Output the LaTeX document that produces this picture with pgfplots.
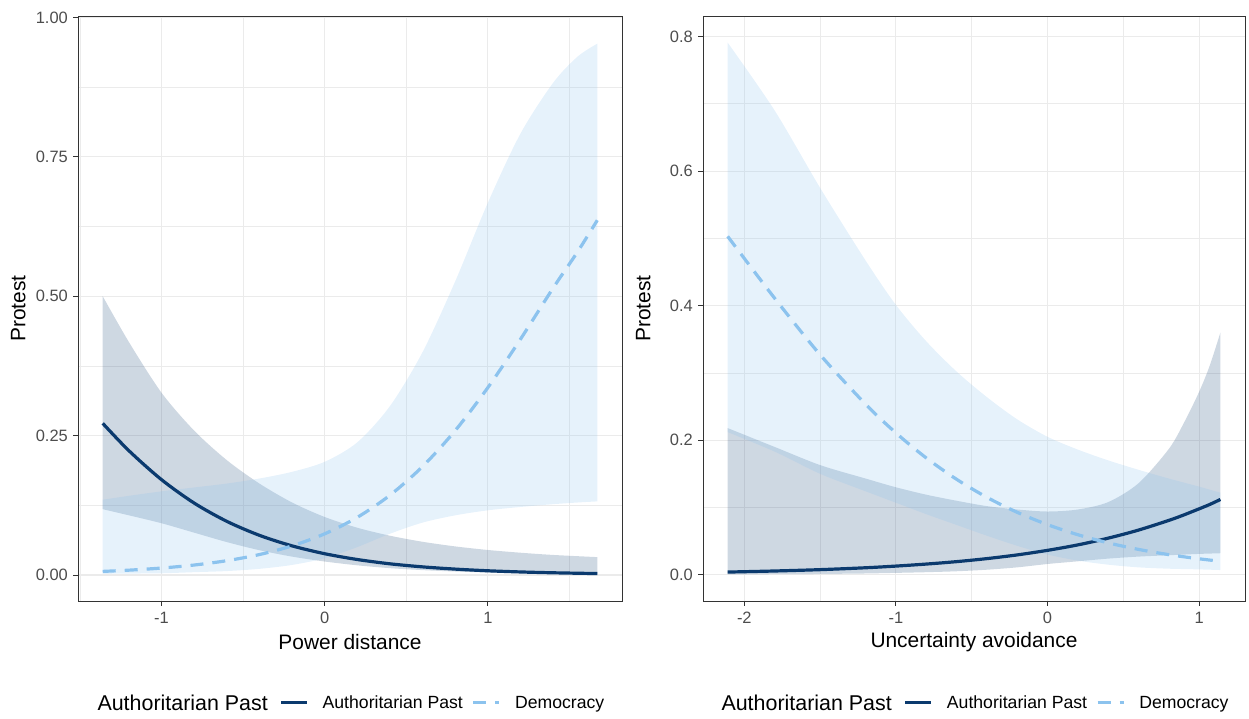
\documentclass[border=0pt]{standalone}
\usepackage{fontspec}
\setmainfont{Liberation Sans}
\usepackage{pgfplots}
\pgfplotsset{compat=1.18}
\usepackage{pgfplotstable}
\usepgfplotslibrary{fillbetween}
\definecolor{navy}{HTML}{0B3A6E}
\definecolor{lblue}{HTML}{8CC3EE}
\definecolor{gridc}{HTML}{EBEBEB}
\definecolor{gray20}{HTML}{333333}
\definecolor{gray30}{HTML}{4D4D4D}

% x  mean  lo  hi
\pgfplotstableread{
x y lo hi
-1.36 0.272 0.118 0.500
-1.2 0.223 0.107 0.418
-1.0 0.171 0.0928 0.327
-0.8 0.129 0.0759 0.259
-0.6 0.0962 0.0590 0.206
-0.4 0.0711 0.0444 0.164
-0.2 0.0522 0.0329 0.130
0 0.0381 0.0241 0.104
0.2 0.0277 0.0173 0.0847
0.4 0.0200 0.0122 0.0704
0.6 0.0145 0.0087 0.0595
0.8 0.0105 0.0062 0.0512
1.0 0.0075 0.0045 0.0448
1.2 0.0054 0.0033 0.0399
1.4 0.0039 0.0025 0.0359
1.67 0.0025 0.0018 0.0320
}\LA

\pgfplotstableread{
x y lo hi
-1.36 0.0064 0.002 0.135
-1.2 0.0086 0.0025 0.142
-1.0 0.0124 0.003 0.150
-0.8 0.0178 0.005 0.157
-0.6 0.0256 0.007 0.164
-0.4 0.0366 0.011 0.173
-0.2 0.0522 0.018 0.185
0 0.0738 0.030 0.203
0.2 0.1034 0.050 0.238
0.4 0.1431 0.074 0.303
0.6 0.1947 0.094 0.400
0.8 0.2592 0.107 0.527
1.0 0.3363 0.116 0.668
1.2 0.4232 0.122 0.792
1.4 0.5150 0.127 0.883
1.55 0.5800 0.130 0.930
1.67 0.6363 0.132 0.953
}\LD

\pgfplotstableread{
x y lo hi
-2.11 0.0040 0.0005 0.218
-1.8 0.0056 0.0008 0.190
-1.5 0.0076 0.0012 0.163
-1.2 0.0104 0.0019 0.143
-1.0 0.0129 0.0028 0.130
-0.8 0.0159 0.0038 0.119
-0.6 0.0195 0.0052 0.110
-0.4 0.0240 0.0075 0.102
-0.2 0.0295 0.011 0.097
0 0.0363 0.016 0.094
0.2 0.0444 0.020 0.097
0.4 0.0544 0.024 0.108
0.6 0.0664 0.027 0.136
0.8 0.0808 0.029 0.187
0.9 0.0890 0.030 0.226
1.0 0.0980 0.031 0.272
1.07 0.1045 0.0315 0.311
1.14 0.1119 0.032 0.360
}\RA

\pgfplotstableread{
x y lo hi
-2.11 0.503 0.212 0.791
-1.8 0.411 0.183 0.690
-1.5 0.327 0.150 0.575
-1.2 0.2535 0.124 0.467
-1.0 0.2108 0.107 0.401
-0.8 0.1736 0.090 0.347
-0.6 0.1419 0.074 0.302
-0.4 0.1151 0.058 0.264
-0.2 0.0928 0.043 0.231
0 0.0745 0.030 0.205
0.2 0.0595 0.021 0.186
0.4 0.0474 0.015 0.170
0.6 0.0377 0.011 0.156
0.8 0.0299 0.009 0.143
1.0 0.0237 0.008 0.131
1.14 0.0201 0.007 0.122
}\RD

\pgfplotsset{
  panel/.style={
    scale only axis, height=585bp, anchor=south west,
    axis line style={gray20, line width=0.9bp},
    every tick/.style={gray20, line width=0.9bp},
    tick align=outside, major tick length=5bp, minor tick length=0pt,
    xtick pos=bottom, ytick pos=left,
    grid=both,
    major grid style={gridc, line width=1.1bp},
    minor grid style={gridc, line width=0.6bp},
    ticklabel style={font=\fontsize{16.5}{19}\selectfont, text=gray30},
    xticklabel style={anchor=north, inner sep=0pt, yshift=-6bp},
    yticklabel style={anchor=east, inner sep=0pt, xshift=-5bp},
    label style={font=\fontsize{21}{24}\selectfont},
    xlabel style={at={(axis description cs:0.5,-0.070)}, anchor=center},
    ylabel style={at={(axis description cs:-0.110,0.5)}, anchor=center},
    legend columns=-1,
    legend style={draw=none, fill=none, inner sep=0pt, at={(axis description cs:0.370,-0.174)}, anchor=west,
      font=\fontsize{17.7}{20}\selectfont, nodes={inner sep=0pt},
      /tikz/every odd column/.append style={column sep=14bp},
      /tikz/every even column/.append style={column sep=9bp}},
    legend image code/.code={\draw[#1] (0bp,0bp) -- (26bp,0bp);},
  },
  aline/.style={navy, line width=3.2bp},
  dline/.style={lblue, line width=3.2bp, dash pattern=on 13bp off 9bp},
}

\begin{document}
\begin{tikzpicture}
\begin{axis}[panel, at={(78bp,118bp)}, width=544bp,
  xmin=-1.5115, xmax=1.8215, ymin=-0.0467, ymax=1.0027,
  xtick={-1,0,1}, xticklabels={-1,0,1},
  minor xtick={-1.5,-0.5,0.5,1.5},
  ytick={0,0.25,0.5,0.75,1}, yticklabels={0.00,0.25,0.50,0.75,1.00},
  minor ytick={0.125,0.375,0.625,0.875},
  xlabel={Power distance}, ylabel={Protest}]
\addlegendimage{aline}\addlegendentry{Authoritarian Past}
\addlegendimage{dline}\addlegendentry{Democracy}
\addplot[name path=lah, draw=none, smooth, forget plot] table[x=x,y=hi]{\LA};
\addplot[name path=lal, draw=none, smooth, forget plot] table[x=x,y=lo]{\LA};
\addplot[fill=navy, fill opacity=0.2, draw=none, forget plot] fill between[of=lah and lal];
\addplot[name path=ldh, draw=none, smooth, forget plot] table[x=x,y=hi]{\LD};
\addplot[name path=ldl, draw=none, smooth, forget plot] table[x=x,y=lo]{\LD};
\addplot[fill=lblue, fill opacity=0.22, draw=none, forget plot] fill between[of=ldh and ldl];
\addplot[aline, smooth, forget plot] table[x=x,y=y]{\LA};
\addplot[dline, smooth, forget plot] table[x=x,y=y]{\LD};
\end{axis}

\begin{axis}[panel, at={(703bp,118bp)}, width=542bp,
  xmin=-2.2725, xmax=1.3025, ymin=-0.039, ymax=0.8305,
  xtick={-2,-1,0,1}, xticklabels={-2,-1,0,1},
  minor xtick={-1.5,-0.5,0.5},
  ytick={0,0.2,0.4,0.6,0.8}, yticklabels={0.0,0.2,0.4,0.6,0.8},
  minor ytick={0.1,0.3,0.5,0.7},
  xlabel={Uncertainty avoidance}, ylabel={Protest}]
\addlegendimage{aline}\addlegendentry{Authoritarian Past}
\addlegendimage{dline}\addlegendentry{Democracy}
\addplot[name path=rah, draw=none, smooth, forget plot] table[x=x,y=hi]{\RA};
\addplot[name path=ral, draw=none, smooth, forget plot] table[x=x,y=lo]{\RA};
\addplot[fill=navy, fill opacity=0.2, draw=none, forget plot] fill between[of=rah and ral];
\addplot[name path=rdh, draw=none, smooth, forget plot] table[x=x,y=hi]{\RD};
\addplot[name path=rdl, draw=none, smooth, forget plot] table[x=x,y=lo]{\RD};
\addplot[fill=lblue, fill opacity=0.22, draw=none, forget plot] fill between[of=rdh and rdl];
\addplot[aline, smooth, forget plot] table[x=x,y=y]{\RA};
\addplot[dline, smooth, forget plot] table[x=x,y=y]{\RD};
\end{axis}

\node[anchor=east, font=\fontsize{21.5}{24}\selectfont, inner sep=0pt] at (268bp,16bp) {Authoritarian Past};
\node[anchor=east, font=\fontsize{21.5}{24}\selectfont, inner sep=0pt] at (892bp,16bp) {Authoritarian Past};
\path (0,0) rectangle (1249bp,719bp);
\end{tikzpicture}
\end{document}
